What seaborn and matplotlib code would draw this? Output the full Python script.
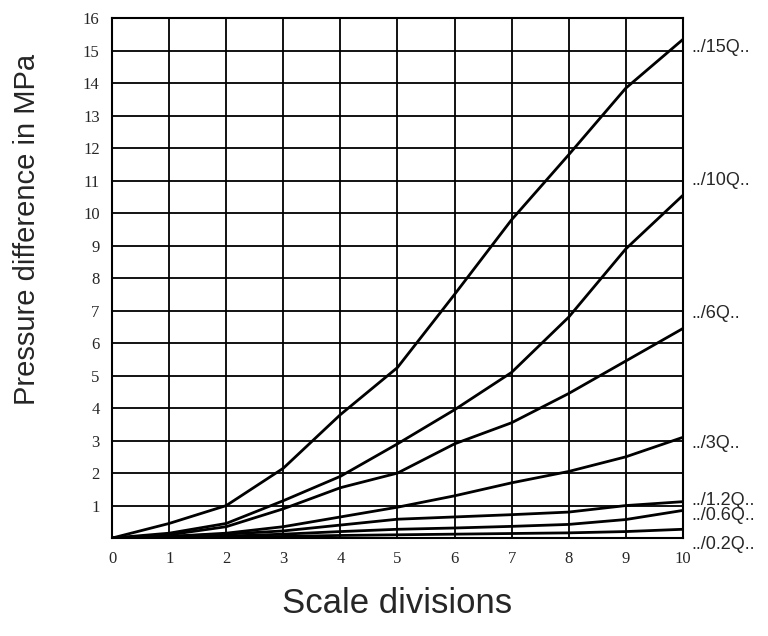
import matplotlib
matplotlib.use('Agg')
import matplotlib.pyplot as plt
import pandas as pd
import seaborn as sns

# Data
scale = [0, 1, 2, 3, 4, 5, 6, 7, 8, 9, 10]
q15 = [0, 0.45, 1.0, 2.15, 3.8, 5.25, 7.5, 9.8, 11.8, 13.85, 15.35]
q10 = [0, 0.15, 0.45, 1.15, 1.9, 2.9, 3.95, 5.1, 6.8, 8.9, 10.55]
q6 = [0, 0.1, 0.35, 0.9, 1.55, 2.0, 2.9, 3.55, 4.45, 5.45, 6.45]
q3 = [0, 0.05, 0.15, 0.35, 0.65, 0.95, 1.3, 1.7, 2.05, 2.5, 3.1]
q1_2 = [0, 0.05, 0.12, 0.22, 0.4, 0.58, 0.65, 0.72, 0.8, 1.0, 1.12]
q0_6 = [0, 0.02, 0.06, 0.12, 0.2, 0.27, 0.31, 0.36, 0.42, 0.57, 0.85]
q0_2 = [0, 0.01, 0.03, 0.05, 0.08, 0.1, 0.12, 0.14, 0.16, 0.2, 0.27]

names = ['../15Q..', '../10Q..', '../6Q..', '../3Q..', '../1.2Q..', '../0.6Q..', '../0.2Q..']
series = [q15, q10, q6, q3, q1_2, q0_6, q0_2]
label_y = [15.1, 11.0, 6.9, 2.9, 1.17, 0.68, -0.2]

rows = []
for name, vals in zip(names, series):
    for x, y in zip(scale, vals):
        rows.append({'scale': x, 'dp': y, 'curve': name})
df = pd.DataFrame(rows)

sns.set_style('white')
fig = plt.figure(figsize=(7.68, 6.36), dpi=100)
ax = fig.add_axes([0.146, 0.154, 0.743, 0.817])

# grid
for v in range(0, 11):
    ax.axvline(v, color='black', lw=1.3, zorder=1)
for v in range(0, 17):
    ax.axhline(v, color='black', lw=1.3, zorder=1)

sns.lineplot(data=df, x='scale', y='dp', units='curve', estimator=None,
             color='black', lw=2.0, ax=ax, legend=False, zorder=3)

ax.set_xlim(0, 10)
ax.set_ylim(0, 16)
ax.set_xticks(range(0, 11))
ax.set_yticks(range(1, 17))
tick_font = dict(family='Liberation Serif', size=12)
ax.set_xticklabels([str(v) for v in range(0, 11)], **tick_font)
ax.set_yticklabels([str(v) for v in range(1, 17)], **tick_font)
ax.tick_params(length=0, pad=9)
for s in ax.spines.values():
    s.set_color('black')
    s.set_linewidth(1.5)

for name, y in zip(names, label_y):
    ax.text(10.15, y, name, family='Liberation Sans', fontsize=13,
            va='center', ha='left', clip_on=False)

ax.set_xlabel('Scale divisions', family='Liberation Sans', fontsize=25, labelpad=15)
ax.set_ylabel('Pressure difference in MPa', family='Liberation Sans', fontsize=21)
ax.yaxis.set_label_coords(-0.125, 0.593)

fig.savefig('out.png', dpi=100)
